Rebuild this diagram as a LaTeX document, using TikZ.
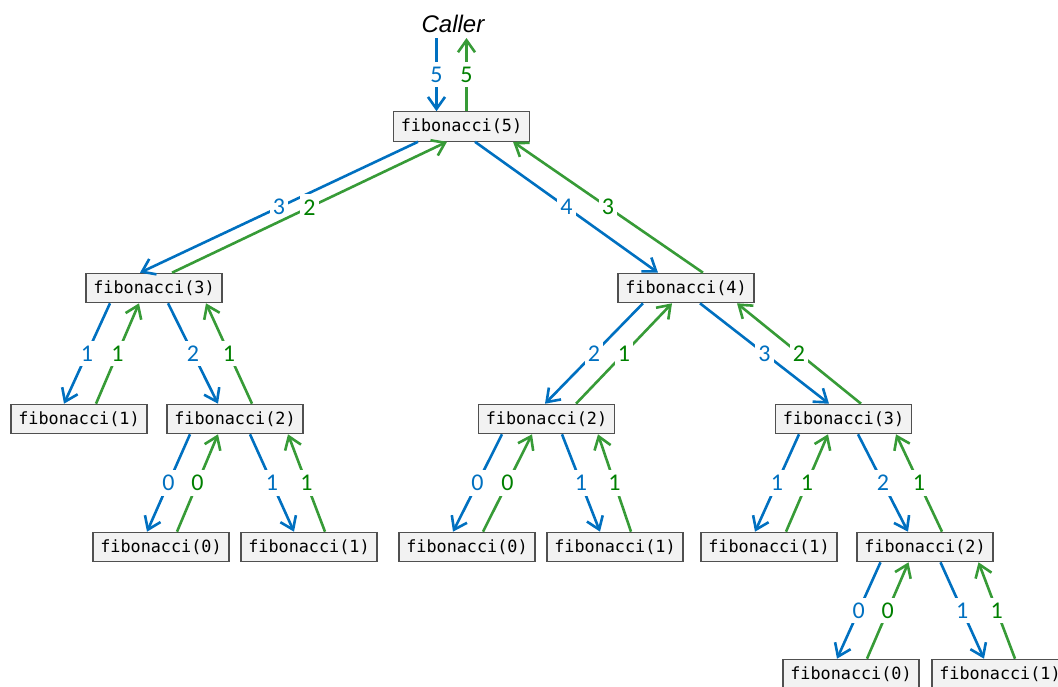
\documentclass[tikz,border=0pt]{standalone}
\usepackage{fontspec}
\setmainfont{Carlito}
\newfontfamily\fibmono{DejaVu Sans Mono}
\newfontfamily\callerfont{Liberation Sans}
\usetikzlibrary{arrows.meta}
\definecolor{cblue}{RGB}{0,112,192}
\definecolor{cgreen}{RGB}{55,155,55}
\definecolor{cgreentxt}{RGB}{0,128,0}
\definecolor{boxfill}{RGB}{242,242,242}
\definecolor{boxline}{RGB}{80,80,80}
\begin{document}
\begin{tikzpicture}[x=1pt,y=-1pt,
  fib/.style={draw=boxline, fill=boxfill, line width=1.1pt, minimum width=136pt,
    minimum height=29.5pt, inner sep=0pt, font=\fibmono\fontsize{16.8}{18}\selectfont},
  callarr/.style={draw=cblue, line width=2.6pt, -{Straight Barb[length=12pt,width=17pt]}},
  retarr/.style={draw=cgreen, line width=2.6pt, -{Straight Barb[length=12pt,width=17pt]}},
  clab/.style={pos=0.5, fill=white, inner xsep=3pt, inner ysep=5pt, text=cblue,
    font=\fontsize{24}{24}\selectfont},
  rlab/.style={pos=0.5, fill=white, inner xsep=3pt, inner ysep=5pt, text=cgreentxt,
    font=\fontsize{24}{24}\selectfont}]
\useasboundingbox (0,0) rectangle (1058,686);

\node[anchor=base, font=\callerfont\itshape\fontsize{24}{24}\selectfont] (caller) at (453,32) {Caller};
\coordinate (cin) at (436.5,38);
\coordinate (cout) at (466.5,38);

\node[fib] (f5) at (461.5,126.5) {fibonacci(5)};
\node[fib] (f3a) at (154,288) {fibonacci(3)};
\node[fib] (f4) at (686,288) {fibonacci(4)};
\node[fib] (f1a) at (79,419) {fibonacci(1)};
\node[fib] (f2a) at (235,419) {fibonacci(2)};
\node[fib] (f2b) at (546.5,419) {fibonacci(2)};
\node[fib] (f3b) at (843.5,419) {fibonacci(3)};
\node[fib] (f0a) at (161,547) {fibonacci(0)};
\node[fib] (f1b) at (309,547) {fibonacci(1)};
\node[fib] (f0b) at (467,547) {fibonacci(0)};
\node[fib] (f1c) at (615,547) {fibonacci(1)};
\node[fib] (f1d) at (769,547) {fibonacci(1)};
\node[fib] (f2c) at (925,547) {fibonacci(2)};
\node[fib] (f0c) at (851,674) {fibonacci(0)};
\node[fib] (f1e) at (1000,674) {fibonacci(1)};

% caller
\draw[callarr] (cin) -- ([xshift=-25pt]f5.north) node[clab] {5};
\draw[retarr] ([xshift=5pt]f5.north) -- (cout) node[rlab] {5};

% f5 -> f3a
\draw[callarr] ([xshift=-43.5pt]f5.south) -- ([xshift=-14pt]f3a.north) node[clab] {3};
\draw[retarr] ([xshift=18pt]f3a.north) -- ([xshift=-14.5pt]f5.south) node[rlab] {2};
% f5 -> f4
\draw[callarr] ([xshift=13.5pt]f5.south) -- ([xshift=-28pt]f4.north) node[clab] {4};
\draw[retarr] ([xshift=17pt]f4.north) -- ([xshift=51.5pt]f5.south) node[rlab] {3};

% f3a -> f1a
\draw[callarr] ([xshift=-44pt]f3a.south) -- ([xshift=-15pt]f1a.north) node[clab] {1};
\draw[retarr] ([xshift=17pt]f1a.north) -- ([xshift=-15pt]f3a.south) node[rlab] {1};
% f3a -> f2a
\draw[callarr] ([xshift=14pt]f3a.south) -- ([xshift=-17pt]f2a.north) node[clab] {2};
\draw[retarr] ([xshift=17pt]f2a.north) -- ([xshift=52pt]f3a.south) node[rlab] {1};

% f4 -> f2b
\draw[callarr] ([xshift=-43pt]f4.south) -- ([xshift=-1.5pt]f2b.north) node[clab] {2};
\draw[retarr] ([xshift=29.5pt]f2b.north) -- ([xshift=-14pt]f4.south) node[rlab] {1};
% f4 -> f3b
\draw[callarr] ([xshift=14pt]f4.south) -- ([xshift=-14.5pt]f3b.north) node[clab] {3};
\draw[retarr] ([xshift=17.5pt]f3b.north) -- ([xshift=51pt]f4.south) node[rlab] {2};

% f2a -> f0a, f1b
\draw[callarr] ([xshift=-45pt]f2a.south) -- ([xshift=-14pt]f0a.north) node[clab] {0};
\draw[retarr] ([xshift=16pt]f0a.north) -- ([xshift=-17pt]f2a.south) node[rlab] {0};
\draw[callarr] ([xshift=15pt]f2a.south) -- ([xshift=-15pt]f1b.north) node[clab] {1};
\draw[retarr] ([xshift=16pt]f1b.north) -- ([xshift=53pt]f2a.south) node[rlab] {1};

% f2b -> f0b, f1c
\draw[callarr] ([xshift=-44.5pt]f2b.south) -- ([xshift=-14pt]f0b.north) node[clab] {0};
\draw[retarr] ([xshift=16pt]f0b.north) -- ([xshift=-14.5pt]f2b.south) node[rlab] {0};
\draw[callarr] ([xshift=15.5pt]f2b.south) -- ([xshift=-15pt]f1c.north) node[clab] {1};
\draw[retarr] ([xshift=16pt]f1c.north) -- ([xshift=51.5pt]f2b.south) node[rlab] {1};

% f3b -> f1d, f2c
\draw[callarr] ([xshift=-44.5pt]f3b.south) -- ([xshift=-14pt]f1d.north) node[clab] {1};
\draw[retarr] ([xshift=17pt]f1d.north) -- ([xshift=-15.5pt]f3b.south) node[rlab] {1};
\draw[callarr] ([xshift=14.5pt]f3b.south) -- ([xshift=-17pt]f2c.north) node[clab] {2};
\draw[retarr] ([xshift=17pt]f2c.north) -- ([xshift=52.5pt]f3b.south) node[rlab] {1};

% f2c -> f0c, f1e
\draw[callarr] ([xshift=-44.5pt]f2c.south) -- ([xshift=-14pt]f0c.north) node[clab] {0};
\draw[retarr] ([xshift=16pt]f0c.north) -- ([xshift=-16.5pt]f2c.south) node[rlab] {0};
\draw[callarr] ([xshift=15.5pt]f2c.south) -- ([xshift=-16pt]f1e.north) node[clab] {1};
\draw[retarr] ([xshift=15pt]f1e.north) -- ([xshift=53.5pt]f2c.south) node[rlab] {1};
\end{tikzpicture}
\end{document}
